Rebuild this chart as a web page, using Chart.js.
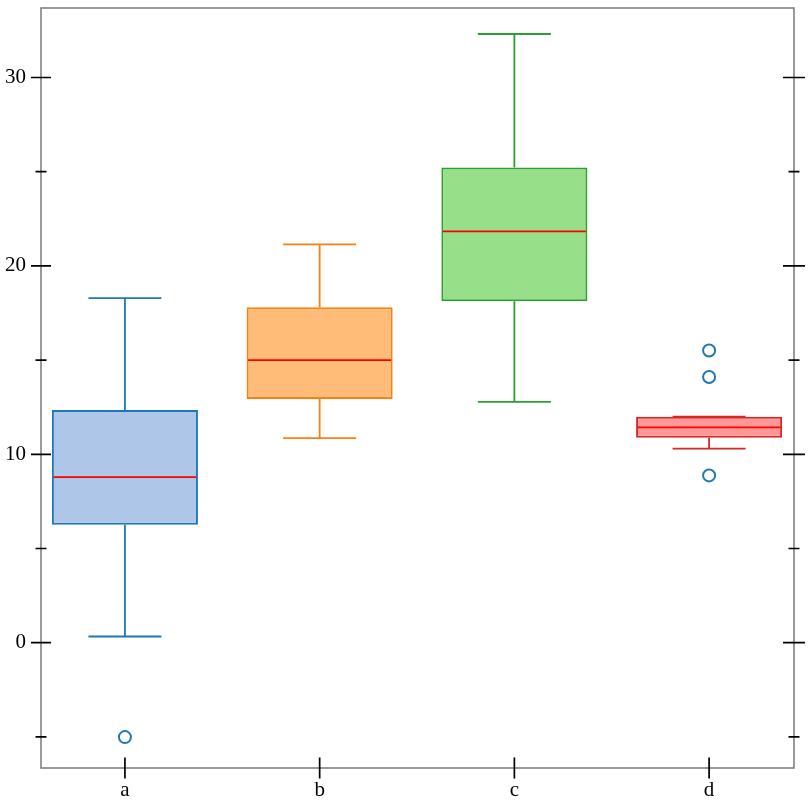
<!DOCTYPE html>
<html>
<head>
<meta charset="utf-8">
<script src="https://cdn.jsdelivr.net/npm/chart.js@4.4.1/dist/chart.umd.min.js"></script>
<style>
  html, body { margin: 0; padding: 0; background: #fff; }
  #wrap { width: 812px; height: 812px; }
</style>
</head>
<body>
<div id="wrap"><canvas id="plotarea" width="812" height="812"></canvas></div>
<script>
// box stats
const categories = ['a', 'b', 'c', 'd'];
const q1Values = [6.26, 12.94, 18.13, 10.88];
const medianValues = [8.79, 15.0, 21.83, 11.43];
const q3Values = [12.35, 17.81, 25.22, 12.0];
const whiskerLow = [0.33, 10.86, 12.78, 10.30];
const whiskerHigh = [18.29, 21.14, 32.31, 12.0];

// outliers: category position (1..4) and value
const outlierPos = [1, 4, 4, 4];
const outlierValues = [-5.01, 15.51, 14.1, 8.88];

// y ticks
const majorTicks = [0, 10, 20, 30];
const minorTicks = [-5, 5, 15, 25];

const fillColors = ['#aec7e8', '#ffbb78', '#98df8a', '#ff9896'];
const lineColors = ['#1f77b4', '#ff7f0e', '#2ca02c', '#d62728'];

const boxWidth = 0.75;   // in x units
const capWidth = 0.375;

const fontSpec = { family: '"Liberation Serif", "DejaVu Serif", serif', size: 21 };

// whiskers under the boxes, medians over them
const boxParts = {
  id: 'boxParts',
  beforeDatasetsDraw(chart) {
    const { ctx, scales: { x, y } } = chart;
    ctx.save();
    ctx.lineWidth = 1.8;
    categories.forEach((c, i) => {
      const px = x.getPixelForValue(i + 1);
      const half = x.getPixelForValue(i + 1 + capWidth / 2) - px;
      const hi = y.getPixelForValue(whiskerHigh[i]);
      const lo = y.getPixelForValue(whiskerLow[i]);
      ctx.strokeStyle = lineColors[i];
      ctx.beginPath();
      ctx.moveTo(px, y.getPixelForValue(q3Values[i]));
      ctx.lineTo(px, hi);
      ctx.moveTo(px - half, hi);
      ctx.lineTo(px + half, hi);
      ctx.moveTo(px, y.getPixelForValue(q1Values[i]));
      ctx.lineTo(px, lo);
      ctx.moveTo(px - half, lo);
      ctx.lineTo(px + half, lo);
      ctx.stroke();
    });
    ctx.restore();
  },
  afterDatasetsDraw(chart) {
    const { ctx, scales: { x, y } } = chart;
    ctx.save();
    ctx.lineWidth = 1.8;
    ctx.strokeStyle = '#ff0000';
    categories.forEach((c, i) => {
      const l = x.getPixelForValue(i + 1 - boxWidth / 2);
      const r = x.getPixelForValue(i + 1 + boxWidth / 2);
      const m = y.getPixelForValue(medianValues[i]);
      ctx.beginPath();
      ctx.moveTo(l + 1.5, m);
      ctx.lineTo(r - 1.5, m);
      ctx.stroke();
    });
    ctx.restore();
  }
};

// frame and tick marks on both sides
const frame = {
  id: 'frame',
  afterDraw(chart) {
    const { ctx, chartArea: a, scales: { x, y } } = chart;
    ctx.save();
    ctx.strokeStyle = '#808080';
    ctx.lineWidth = 1.6;
    ctx.strokeRect(a.left, a.top, a.right - a.left, a.bottom - a.top);
    ctx.strokeStyle = '#000';
    ctx.lineWidth = 1.7;
    ctx.beginPath();
    majorTicks.forEach(v => {
      const py = y.getPixelForValue(v);
      ctx.moveTo(a.left - 10, py); ctx.lineTo(a.left + 10, py);
      ctx.moveTo(a.right - 11, py); ctx.lineTo(a.right + 11, py);
    });
    minorTicks.forEach(v => {
      const py = y.getPixelForValue(v);
      ctx.moveTo(a.left - 5.5, py); ctx.lineTo(a.left + 5.5, py);
      ctx.moveTo(a.right - 5.5, py); ctx.lineTo(a.right + 5.5, py);
    });
    categories.forEach((c, i) => {
      const px = x.getPixelForValue(i + 1);
      ctx.moveTo(px, a.bottom - 10.5); ctx.lineTo(px, a.bottom + 10.5);
    });
    ctx.stroke();
    ctx.restore();
  }
};

const config = {
  type: 'bar',
  data: {
    datasets: [
      {
        label: 'boxes',
        data: categories.map((c, i) => ({ x: i + 1, y: [q1Values[i], q3Values[i]] })),
        backgroundColor: fillColors,
        borderColor: lineColors,
        borderWidth: 2,
        borderSkipped: false,
        categoryPercentage: 1,
        barPercentage: boxWidth
      },
      {
        type: 'line',
        label: 'outliers',
        data: outlierPos.map((p, i) => ({ x: p, y: outlierValues[i] })),
        showLine: false,
        pointRadius: 6,
        pointBorderWidth: 2,
        pointBorderColor: '#1f77b4',
        pointBackgroundColor: 'rgba(0,0,0,0)'
      }
    ]
  },
  options: {
    responsive: false,
    devicePixelRatio: 1,
    animation: false,
    layout: { padding: { left: 0, top: 6, right: 18, bottom: 0 } },
    plugins: {
      legend: { display: false },
      tooltip: { enabled: false }
    },
    scales: {
      x: {
        type: 'linear',
        offset: false,
        min: 0.569,
        max: 4.436,
        grid: { display: false, drawTicks: false, offset: false },
        border: { display: false },
        afterBuildTicks: s => { s.ticks = categories.map((c, i) => ({ value: i + 1 })); },
        afterFit: s => { s.height = 44; s.paddingLeft = 0; s.paddingRight = 0; },
        ticks: {
          autoSkip: false,
          maxRotation: 0,
          padding: 10,
          color: '#000',
          font: fontSpec,
          callback: v => categories[v - 1]
        }
      },
      y: {
        min: -6.65,
        max: 33.69,
        grid: { display: false, drawTicks: false },
        border: { display: false },
        afterBuildTicks: s => { s.ticks = majorTicks.map(v => ({ value: v })); },
        afterFit: s => { s.width = 41; s.paddingTop = 0; s.paddingBottom = 0; },
        ticks: {
          padding: 15,
          color: '#000',
          font: fontSpec,
          callback: v => String(v)
        }
      }
    }
  },
  plugins: [boxParts, frame]
};

const myChart = new Chart(document.getElementById('plotarea'), config);
</script>
</body>
</html>
